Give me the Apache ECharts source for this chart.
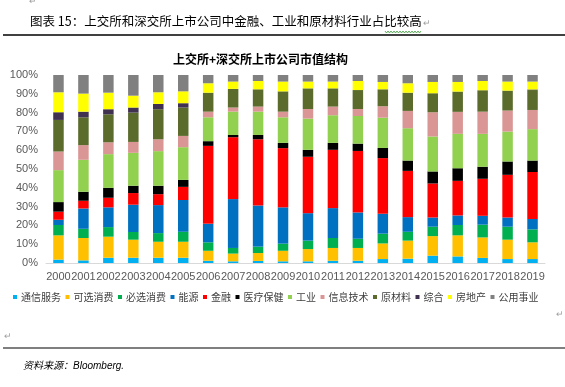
<!DOCTYPE html>
<html>
<head>
<meta charset="utf-8">
<script src="https://cdn.jsdelivr.net/npm/echarts@6/dist/echarts.min.js"></script>
<style>
html,body{margin:0;padding:0;background:#fff;}
#c{width:565px;height:387px;}
</style>
</head>
<body>
<div id="c"></div>
<script>
const years = ['2000','2001','2002','2003','2004','2005','2006','2007','2008','2009','2010','2011','2012','2013','2014','2015','2016','2017','2018','2019'];
const yTicks = [0,10,20,30,40,50,60,70,80,90,100];
const seriesNames = ['通信服务','可选消费','必选消费','能源','金融','医疗保健','工业','信息技术','原材料','综合','房地产','公用事业'];
const seriesColors = ['#00b0f0','#ffc000','#00b050','#0070c0','#ff0000','#000000','#92d050','#da9694','#5a6b2c','#403151','#ffff00','#808080'];

const telecom   = [1.8,1.4,2.8,2.8,2.8,2.8,1.2,0.9,1.1,0.9,0.9,1.2,1.2,2.1,2.3,3.9,3.5,2.7,2.1,2.1];
const consDisc  = [12.9,11.9,11.2,9.6,8.5,8.5,5.3,4.1,4.2,5.6,6.5,6.8,6.8,8.3,9.6,10.4,11.2,10.9,10.3,8.9];
const consStap  = [5.5,4.9,5.1,4.1,4.6,5.3,4.5,3.0,3.4,3.8,4.5,5.3,4.9,5.2,4.7,5.0,5.5,6.8,6.9,6.9];
const energy    = [2.8,10.8,10.5,14.5,14.9,16.9,9.9,26.0,21.9,19.3,14.6,15.9,14.0,10.6,7.8,4.9,5.1,4.7,4.9,5.5];
const finance   = [4.3,4.1,5.1,6.2,5.8,7.0,41.4,32.9,35.2,31.5,30.0,31.0,32.7,29.6,24.6,18.1,18.4,19.7,22.7,25.0];
const health    = [5.1,4.8,5.3,3.9,4.5,3.7,2.5,1.2,2.3,2.8,3.7,3.7,3.9,5.4,5.5,6.4,6.7,6.4,7.1,6.1];
const industry  = [17.0,17.0,17.9,17.5,18.4,17.4,12.7,12.4,12.4,13.6,16.6,14.7,14.7,16.1,17.2,18.6,18.3,17.5,15.9,16.7];
const infoTech  = [9.9,7.8,6.3,5.8,6.3,6.0,3.0,2.2,2.7,3.0,5.1,4.6,3.7,6.1,9.2,12.9,11.7,11.8,11.2,10.2];
const materials = [16.8,14.8,14.9,15.6,16.0,15.1,10.1,9.9,9.2,10.8,11.0,9.7,10.1,9.0,9.7,10.1,10.8,11.4,10.6,10.6];
const conglom   = [4.1,3.0,2.7,2.7,2.8,2.3,0,0,0,0,0,0,0,0,0,0,0,0,0,0.3];
const realEst   = [10.6,9.6,8.8,6.3,6.2,6.3,5.0,3.9,4.4,5.2,3.6,3.6,4.8,3.9,5.0,6.0,5.1,4.9,4.8,4.2];
const utilities = [9.2,9.9,9.4,11.0,9.2,8.7,4.4,3.5,3.2,3.5,3.5,3.5,3.2,3.7,4.4,3.7,3.7,3.2,3.5,3.5];

const seriesData = [telecom,consDisc,consStap,energy,finance,health,industry,infoTech,materials,conglom,realEst,utilities];

const chart = echarts.init(document.getElementById('c'), null, {renderer:'canvas'});
const cjk = '"Noto Sans CJK SC", sans-serif';
const lat = '"Liberation Sans", Arial, sans-serif';

function wavy(x0, x1, y){
  const pts = [];
  let up = true;
  for (let x = x0; x <= x1; x += 1.5) { pts.push([x, up ? y - 1 : y + 1]); up = !up; }
  return pts;
}

chart.setOption({
  animation: false,
  backgroundColor: '#ffffff',
  grid: {left: 46, right: 20, top: 75, bottom: 124, containLabel: false},
  legend: {
    left: 8, top: 287,
    itemWidth: 4, itemHeight: 4, itemGap: 4.5,
    icon: 'rect',
    data: seriesNames,
    textStyle: {fontFamily: cjk, fontSize: 10, color: '#404040', padding: [0,0,0,-1]}
  },
  xAxis: {
    type: 'category',
    data: years,
    axisLine: {show: true, lineStyle: {color: '#d9d9d9', width: 1}},
    axisTick: {show: false},
    axisLabel: {interval: 0, fontFamily: lat, fontSize: 11, color: '#595959', margin: 8}
  },
  yAxis: {
    type: 'value',
    min: yTicks[0], max: yTicks[yTicks.length-1], interval: 10,
    axisLine: {show: false},
    axisTick: {show: false},
    splitLine: {show: false},
    axisLabel: {formatter: '{value}%', fontFamily: lat, fontSize: 11, color: '#595959', margin: 8}
  },
  series: seriesNames.map((n, i) => ({
    name: n, type: 'bar', stack: 'total', barWidth: 10.5,
    itemStyle: {color: seriesColors[i]},
    data: seriesData[i]
  })),
  graphic: [
    {type:'text', left: 29, top: -3, style:{text:'↵', fontSize: 9, fill:'#a0a0a0', fontFamily: lat}},
    {type:'text', left: 30, top: 15, style:{text:'图表 15：上交所和深交所上市公司中金融、工业和原材料行业占比较高', fontFamily: cjk, fontSize: 12.5, fill:'#000000'}},
    {type:'text', left: 423, top: 19, style:{text:'↵', fontSize: 9, fill:'#a0a0a0', fontFamily: lat}},
    {type:'polyline', shape:{points: wavy(385, 421, 32)}, style:{stroke:'#3a9a3a', lineWidth: 0.8, fill: null}},
    {type:'line', shape:{x1: 3, y1: 35, x2: 565, y2: 35}, style:{stroke:'#000000', lineWidth: 1.5}},
    {type:'text', left: 173, top: 53, style:{text:'上交所+深交所上市公司市值结构', fontFamily: cjk, fontSize: 12, fontWeight: 'bold', fill:'#000000'}},
    {type:'text', left: 556, top: 310, style:{text:'↵', fontSize: 9, fill:'#a0a0a0', fontFamily: lat}},
    {type:'text', left: 4, top: 332, style:{text:'↵', fontSize: 9, fill:'#a0a0a0', fontFamily: lat}},
    {type:'line', shape:{x1: 3, y1: 348, x2: 565, y2: 348}, style:{stroke:'#000000', lineWidth: 1.2}},
    {type:'text', left: 23, top: 361, style:{text:'资料来源：Bloomberg.', fontFamily: lat + ', ' + cjk, fontSize: 10, fontStyle: 'italic', fill:'#000000'}}
  ]
});
</script>
</body>
</html>
